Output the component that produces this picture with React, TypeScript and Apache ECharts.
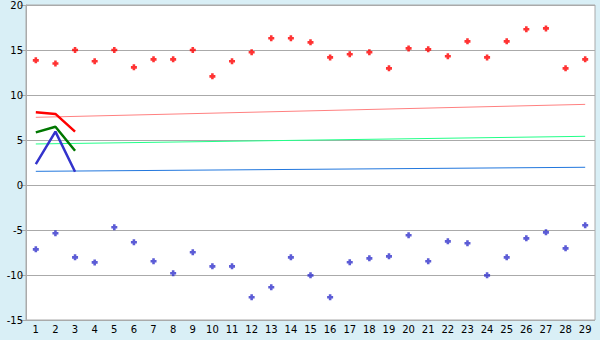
import React, { useEffect, useRef } from "react";
import * as echarts from "echarts";

const categories = ["1","2","3","4","5","6","7","8","9","10","11","12","13","14","15","16","17","18","19","20","21","22","23","24","25","26","27","28","29"];
const highPoints = [13.85,13.5,15,13.75,15,13.07,13.96,13.96,15,12.07,13.75,14.75,16.3,16.3,15.85,14.18,14.52,14.75,12.96,15.18,15.07,14.3,15.96,14.18,15.96,17.3,17.4,12.96,13.96];
const lowPoints = [-7.15,-5.37,-8.04,-8.6,-4.7,-6.37,-8.48,-9.81,-7.48,-9.04,-9.04,-12.48,-11.37,-8.04,-10.04,-12.48,-8.59,-8.15,-7.93,-5.59,-8.48,-6.26,-6.48,-10.04,-8.04,-5.93,-5.26,-7.04,-4.48];
const redLine = [8.07,7.9,5.93];
const greenLine = [5.85,6.48,3.81];
const blueLine = [2.33,5.93,1.48];
const pinkTrend = [["1",7.52],["29",8.96]];
const mintTrend = [["1",4.56],["29",5.41]];
const skyTrend = [["1",1.52],["29",1.97]];
const yTicks = { min: -15, max: 20, interval: 5 };

const markerPath = "path://M2,0H5V2H7V5H5V7H2V5H0V2H2Z";

export default function App() {
  const ref = useRef<HTMLDivElement>(null);
  useEffect(() => {
    const chart = echarts.init(ref.current!, null, { renderer: "svg" });
    const font = { fontFamily: "DejaVu Sans", fontSize: 10, color: "#000" };
    chart.setOption({
      animation: false,
      backgroundColor: "#d9eff6",
      grid: { left: 26, right: 5, top: 5, bottom: 20, show: true, backgroundColor: "#fff", borderColor: "#aaa", borderWidth: 1 },
      xAxis: {
        type: "category",
        data: categories,
        boundaryGap: true,
        axisLine: { lineStyle: { color: "#aaa" } },
        axisTick: { alignWithLabel: true, length: 5, lineStyle: { color: "#000" } },
        axisLabel: { ...font, margin: 4, interval: 0 },
        splitLine: { show: false },
      },
      yAxis: {
        type: "value",
        min: yTicks.min,
        max: yTicks.max,
        interval: yTicks.interval,
        axisLine: { show: true, lineStyle: { color: "#aaa" } },
        axisTick: { show: true, length: 6, lineStyle: { color: "#aaa" } },
        axisLabel: { ...font, margin: 3 },
        splitLine: { lineStyle: { color: "#aaa", width: 1 } },
      },
      series: [
        { type: "line", data: pinkTrend, symbol: "none", lineStyle: { color: "#ff8080", width: 1 }, z: 1 },
        { type: "line", data: mintTrend, symbol: "none", lineStyle: { color: "#22ff88", width: 1 }, z: 1 },
        { type: "line", data: skyTrend, symbol: "none", lineStyle: { color: "#2277dd", width: 1 }, z: 1 },
        { type: "line", data: redLine, symbol: "none", lineStyle: { color: "#ff0000", width: 2.5 }, z: 2 },
        { type: "line", data: greenLine, symbol: "none", lineStyle: { color: "#007700", width: 2.5 }, z: 2 },
        { type: "line", data: blueLine, symbol: "none", lineStyle: { color: "#3333cc", width: 2.5 }, z: 2 },
        { type: "scatter", data: highPoints, symbol: markerPath, symbolSize: 6, itemStyle: { color: "#ff0000" }, z: 3 },
        { type: "scatter", data: lowPoints, symbol: markerPath, symbolSize: 6, itemStyle: { color: "#3333cc" }, z: 3 },
      ],
    });
    return () => chart.dispose();
  }, []);
  return <div ref={ref} style={{ position: "fixed", left: 0, top: 0, width: 600, height: 340 }} />;
}
